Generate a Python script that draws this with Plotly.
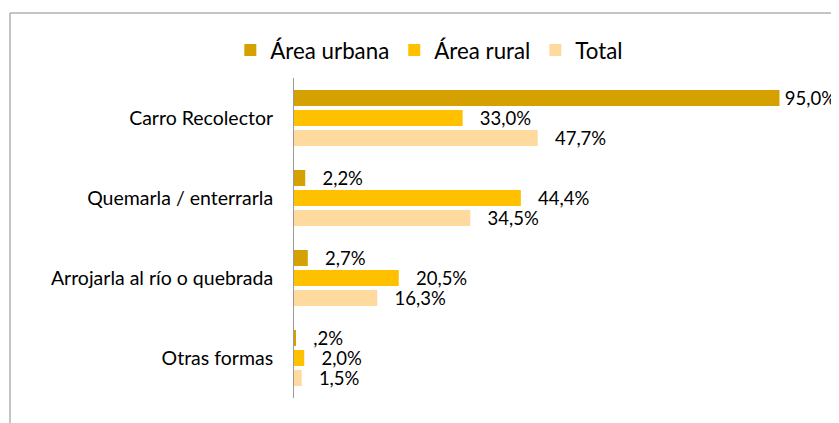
import plotly.graph_objects as go

categories = ["Carro Recolector", "Quemarla / enterrarla", "Arrojarla al río o quebrada", "Otras formas"]
series_names = ["Área urbana", "Área rural", "Total"]
urbana = [95.0, 2.2, 2.7, 0.2]
rural = [33.0, 44.4, 20.5, 2.0]
total = [47.7, 34.5, 16.3, 1.5]
colors = ["#D5A100", "#FFC000", "#FFDA9F"]

FONT = "Lato"
OFF = 8  # page body margin
W, H = 839 - OFF, 423 - OFF
ML, MR, MT, MB = 294 - OFF, 20, 78 - OFF, 25
SCALE = 5.11  # px per percent
XMAX = (W - ML - MR) / SCALE


def fmt(v):
    s = f"{v:.1f}".replace(".", ",")
    if s.startswith("0,"):
        s = s[1:]
    pad = "\u2009" if v > 0.88 * XMAX else "\u00a0\u00a0\u00a0"
    return pad + s + "%"


fig = go.Figure()
for name, vals, col in zip(series_names, [urbana, rural, total], colors):
    fig.add_trace(go.Bar(
        y=categories, x=vals, name=name, orientation="h",
        marker=dict(color=col, line=dict(width=0)),
        text=[fmt(v) for v in vals], textposition="outside",
        textfont=dict(family=FONT, size=18.5, color="#000000"),
        constraintext="none", cliponaxis=False,
    ))

pw = W - ML - MR
ph = H - MT - MB
bx = (10 - OFF - ML) / pw
by = (H - MB - (13 - OFF)) / ph
fig.update_layout(
    width=W, height=H,
    margin=dict(l=ML, r=MR, t=MT, b=MB, autoexpand=False),
    barmode="group", bargap=0.25, bargroupgap=0.2,
    plot_bgcolor="white", paper_bgcolor="white",
    font=dict(family=FONT, color="#000000"),
    showlegend=True,
    legend=dict(orientation="h", xref="container", yref="container",
                x=0.507, xanchor="center", y=1 - (50 - OFF) / H, yanchor="middle",
                font=dict(family=FONT, size=22.3, color="#000000"),
                traceorder="normal", itemwidth=30),
    xaxis=dict(range=[0, XMAX], visible=False, showgrid=False, zeroline=False),
    yaxis=dict(autorange="reversed", showline=True, linecolor="#9A9A9A", linewidth=1,
               ticks="", showgrid=False, ticklabelstandoff=16, automargin=False,
               tickfont=dict(family=FONT, size=19.5, color="#000000")),
    shapes=[
        dict(type="line", xref="paper", yref="paper",
             x0=bx, x1=1.2, y0=by, y1=by,
             line=dict(color="#8A8A8A", width=1)),
        dict(type="line", xref="paper", yref="paper",
             x0=bx, x1=bx, y0=by, y1=-0.2,
             line=dict(color="#8A8A8A", width=1)),
    ],
)

fig.write_html("out.html")
